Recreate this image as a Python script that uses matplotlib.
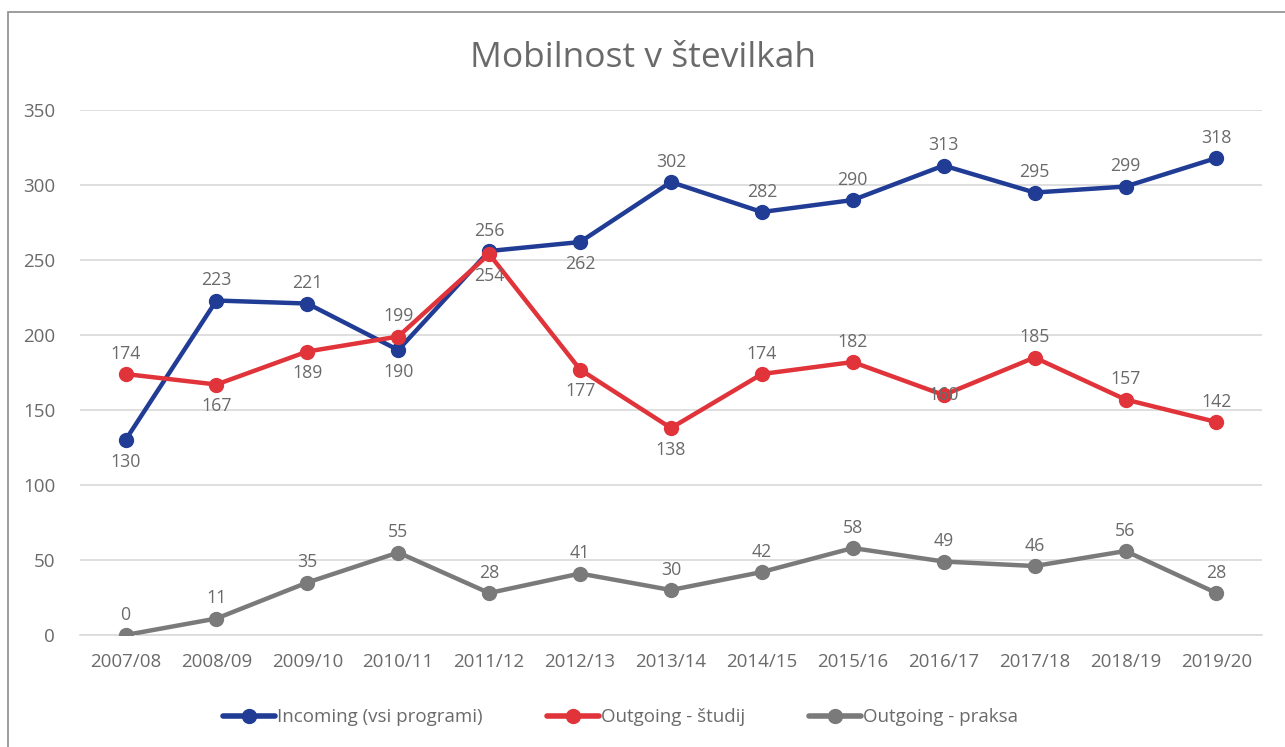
import matplotlib
matplotlib.use("Agg")
import matplotlib.pyplot as plt
from matplotlib.patches import Rectangle

categories = ["2007/08", "2008/09", "2009/10", "2010/11", "2011/12", "2012/13", "2013/14",
              "2014/15", "2015/16", "2016/17", "2017/18", "2018/19", "2019/20"]
incoming = [130, 223, 221, 190, 256, 262, 302, 282, 290, 313, 295, 299, 318]
outgoing_studij = [174, 167, 189, 199, 254, 177, 138, 174, 182, 160, 185, 157, 142]
outgoing_praksa = [0, 11, 35, 55, 28, 41, 30, 42, 58, 49, 46, 56, 28]

# label placement: 1 above, -1 below, 0 centered
pos_incoming = [-1, 1, 1, -1, 1, -1, 1, 1, 1, 1, 1, 1, 1]
pos_studij = [1, -1, -1, 1, -1, -1, -1, 1, 1, 0, 1, 1, 1]
pos_praksa = [1] * 13

plt.rcParams['font.family'] = ['Open Sans', 'DejaVu Sans']

fig = plt.figure(figsize=(12.85, 7.47), dpi=100)
ax = fig.add_axes([0.0623, 0.1499, 0.9197, 0.7028])

text_color = "#6A6A6A"
series = [
    (incoming, "#203C95", "Incoming (vsi programi)", pos_incoming),
    (outgoing_studij, "#E0343A", "Outgoing - študij", pos_studij),
    (outgoing_praksa, "#7A7A7A", "Outgoing - praksa", pos_praksa),
]
x = list(range(len(categories)))
for vals, col, name, pos in series:
    ax.plot(x, vals, color=col, lw=3.2, marker="o", ms=10, label=name,
            solid_capstyle="round", zorder=3)
    for xi, v, p in zip(x, vals, pos):
        if p == 1:
            ax.annotate(str(v), (xi, v), xytext=(0, 8), textcoords="offset points",
                        ha="center", va="bottom", fontsize=12.8, color=text_color, zorder=5)
        elif p == -1:
            ax.annotate(str(v), (xi, v), xytext=(0, -9), textcoords="offset points",
                        ha="center", va="top", fontsize=12.8, color=text_color, zorder=5)
        else:
            ax.annotate(str(v), (xi, v), ha="center", va="center",
                        fontsize=12.8, color=text_color, zorder=5)

ax.set_xlim(-0.5, len(categories) - 0.5)
ax.set_ylim(0, 350)
ax.set_yticks(range(0, 351, 50))
ax.set_xticks(x)
ax.set_xticklabels(categories)
ax.grid(axis="y", color="#D9D9D9", lw=1.2, zorder=0)
ax.set_axisbelow(True)
for s in ["top", "right", "left"]:
    ax.spines[s].set_visible(False)
ax.spines["bottom"].set_color("#D9D9D9")
ax.spines["bottom"].set_linewidth(1.2)
ax.tick_params(axis="both", length=0, labelsize=13.5, colors=text_color)
ax.tick_params(axis="y", pad=18)
ax.tick_params(axis="x", pad=13)

fig.text(0.5, 0.922, "Mobilnost v številkah", ha="center", va="center",
         fontsize=25.5, color=text_color)

leg = fig.legend(loc="center", bbox_to_anchor=(0.483, 0.04), ncol=3, frameon=False,
                 fontsize=13.5, labelcolor=text_color, handlelength=2.8,
                 handletextpad=0.1, columnspacing=3.4)
for h in leg.get_lines():
    h.set_linewidth(4)

fig.patches.append(Rectangle((8 / 1285, -0.01), 1.1, 1 - 12 / 747 + 0.01,
                             transform=fig.transFigure, fill=False,
                             edgecolor="#8C8C8C", lw=1.2))

fig.savefig("out.png", dpi=100)
